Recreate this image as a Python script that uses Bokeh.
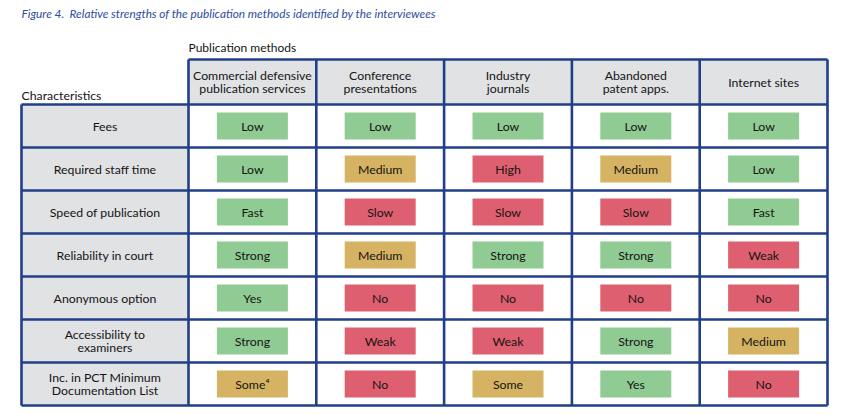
from bokeh.plotting import figure
from bokeh.models import Range1d, ColumnDataSource
from bokeh.core.properties import value
from bokeh.embed import file_html
from bokeh.resources import INLINE

# ---------------- data ----------------
title = "Figure 4.\u2002Relative strengths of the publication methods identified by the interviewees"
methods = ["Commercial defensive\npublication services", "Conference\npresentations",
           "Industry\njournals", "Abandoned\npatent apps.", "Internet sites"]
characteristics = ["Fees", "Required staff time", "Speed of publication", "Reliability in court",
                   "Anonymous option", "Accessibility to\nexaminers",
                   "Inc. in PCT Minimum\nDocumentation List"]
commercial = ["Low", "Low", "Fast", "Strong", "Yes", "Strong", "Some\u2074"]
conference = ["Low", "Medium", "Slow", "Medium", "No", "Weak", "No"]
industry = ["Low", "High", "Slow", "Strong", "No", "Weak", "Some"]
abandoned = ["Low", "Medium", "Slow", "Strong", "No", "Strong", "Yes"]
internet = ["Low", "Low", "Fast", "Weak", "No", "Medium", "No"]
columns = [commercial, conference, industry, abandoned, internet]
rating = {"Low": "good", "Fast": "good", "Strong": "good", "Yes": "good",
          "Medium": "mid", "Some": "mid", "Some\u2074": "mid",
          "High": "poor", "Slow": "poor", "Weak": "poor", "No": "poor"}

# ---------------- style / layout ----------------
GREEN, GOLD, RED = "#8fcb93", "#d5b362", "#de6070"
GRAY = "#e1e2e4"
NAVY = "#213f88"
TITLE_BLUE = "#2b4d9d"
TEXT = "#141414"
FONT = "Lato"
colors = {"good": GREEN, "mid": GOLD, "poor": RED}

W, H = 833, 407
LEFT, FIRST_W, COL_W = 21, 167, 127.8
HEAD_TOP, HEAD_H, ROW_H = 59, 45, 43
BOX_W, BOX_H = 71, 27
LINE_GAP = 13.6
BODY_SIZE = "12.3px"

p = figure(width=W, height=H, output_backend="svg", toolbar_location=None,
           x_range=Range1d(0, W), y_range=Range1d(H, 0), min_border=0)
p.axis.visible = False
p.grid.visible = False
p.outline_line_color = None
p.background_fill_color = "white"

n_rows = len(characteristics)
n_cols = len(methods)
col_left = [LEFT + FIRST_W + i * COL_W for i in range(n_cols)]
col_cx = [c + COL_W / 2 for c in col_left]
body_top = HEAD_TOP + HEAD_H
row_top = [body_top + i * ROW_H for i in range(n_rows)]
row_cy = [r + ROW_H / 2 for r in row_top]
right = LEFT + FIRST_W + n_cols * COL_W
bottom = body_top + n_rows * ROW_H

# header gray cells
p.quad(left=col_left, right=[c + COL_W for c in col_left], top=[HEAD_TOP] * n_cols,
       bottom=[body_top] * n_cols, fill_color=GRAY, line_color=None)
# first column gray cells
p.quad(left=[LEFT] * n_rows, right=[LEFT + FIRST_W] * n_rows, top=row_top,
       bottom=[r + ROW_H for r in row_top], fill_color=GRAY, line_color=None)

# coloured boxes
xs, ys, fills, labels = [], [], [], []
for ci, col in enumerate(columns):
    for ri, v in enumerate(col):
        xs.append(col_cx[ci]); ys.append(row_cy[ri])
        fills.append(colors[rating[v]]); labels.append(v)
src = ColumnDataSource(dict(x=xs, y=ys, fill=fills, label=labels))
p.rect(x="x", y="y", width=BOX_W, height=BOX_H, fill_color="fill", line_color=None, source=src)
p.text(x="x", y="y", text="label", source=src, text_font=value(FONT), text_font_size=BODY_SIZE,
       text_color=TEXT, text_align="center", text_baseline="middle")

# grid lines
x0s, y0s, x1s, y1s = [], [], [], []
x0s.append(LEFT + FIRST_W); y0s.append(HEAD_TOP); x1s.append(right); y1s.append(HEAD_TOP)
for i in range(n_rows + 1):
    y = body_top + i * ROW_H
    x0s.append(LEFT); y0s.append(y); x1s.append(right); y1s.append(y)
x0s.append(LEFT); y0s.append(body_top); x1s.append(LEFT); y1s.append(bottom)
for i in range(n_cols + 1):
    x = LEFT + FIRST_W + i * COL_W
    x0s.append(x); y0s.append(HEAD_TOP); x1s.append(x); y1s.append(bottom)
p.segment(x0=x0s, y0=y0s, x1=x1s, y1=y1s, line_color=NAVY, line_width=2.6)


def multiline(xc, yc, texts, size, color, align="center"):
    tx, ty, tt = [], [], []
    for x, y, t in zip(xc, yc, texts):
        lines = t.split("\n")
        n = len(lines)
        for k, line in enumerate(lines):
            tx.append(x); ty.append(y + (k - (n - 1) / 2) * LINE_GAP); tt.append(line)
    p.text(x=tx, y=ty, text=tt, text_font=value(FONT), text_font_size=size,
           text_color=color, text_align=align, text_baseline="middle")


multiline(col_cx, [HEAD_TOP + HEAD_H / 2] * n_cols, methods, BODY_SIZE, TEXT)
multiline([LEFT + FIRST_W / 2] * n_rows, row_cy, characteristics, BODY_SIZE, TEXT)

# titles
p.text(x=[LEFT], y=[13], text=[title], text_font=value(FONT), text_font_size="11.8px",
       text_font_style="italic", text_color=TITLE_BLUE, text_align="left", text_baseline="middle")
p.text(x=[LEFT + FIRST_W], y=[47], text=["Publication methods"], text_font=value(FONT),
       text_font_size="12px", text_color=TEXT, text_align="left", text_baseline="middle")
p.text(x=[LEFT], y=[94.5], text=["Characteristics"], text_font=value(FONT),
       text_font_size="12.3px", text_color=TEXT, text_align="left", text_baseline="middle")

open("out.html", "w").write(file_html(p, INLINE))
